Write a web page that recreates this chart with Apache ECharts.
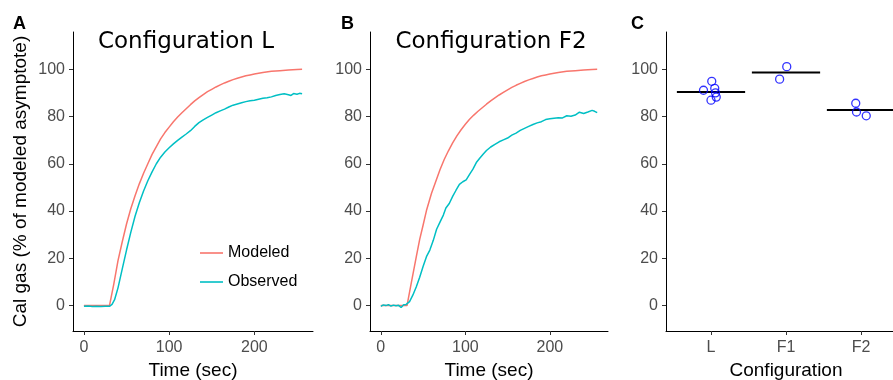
<!DOCTYPE html>
<html><head><meta charset="utf-8">
<script src="https://cdn.jsdelivr.net/npm/echarts@6.0.0/dist/echarts.min.js"></script>
<style>html,body{margin:0;padding:0;background:#fff}#c{width:893px;height:380px}</style>
</head><body><div id="c"></div>
<script>
// ---- data ----
const timeTicks = [0, 100, 200];
const yTicks = [0, 20, 40, 60, 80, 100];
const categories = ['L', 'F1', 'F2'];
const panelTitles = ['Configuration L', 'Configuration F2'];
const panelLetters = ['A', 'B', 'C'];

const modeledA = [[0,0],[10,0],[20,0],[30,0],[35,9],[40,19],[45,27],[50,34.5],[55,41],[60,46.5],[65,51.5],[70,56],[75,60],[80,64],[85,67.3],[90,70.5],[95,73.2],[100,75.5],[105,77.8],[110,79.8],[115,81.6],[120,83.3],[125,85],[130,86.6],[135,88],[140,89.3],[145,90.5],[150,91.5],[155,92.5],[160,93.4],[165,94.2],[170,94.9],[175,95.6],[180,96.2],[185,96.7],[190,97.2],[195,97.6],[200,98],[210,98.6],[220,99.1],[230,99.4],[240,99.7],[250,99.9],[256,100]];
const observedA = [[0,-0.3],[5,-0.2],[10,-0.4],[15,-0.3],[20,-0.4],[25,-0.3],[30,-0.3],[33,0.5],[36,2.5],[40,7.5],[45,15.5],[50,23.5],[55,31],[60,37.8],[65,43.5],[70,48.5],[75,52.8],[80,56.6],[85,60],[90,62.8],[95,65],[100,66.8],[105,68.4],[110,69.9],[115,71.3],[120,72.6],[125,74],[130,75.8],[135,77.4],[140,78.6],[145,79.6],[150,80.6],[155,81.6],[160,82.4],[165,83.1],[170,84],[175,84.8],[180,85.3],[185,85.8],[190,86.3],[195,86.7],[200,86.9],[205,87.3],[210,87.7],[215,87.9],[220,88.3],[225,88.9],[230,89.3],[235,89.6],[240,89.2],[243,88.9],[246,89.7],[250,89.4],[253,89.8],[256,89.6]];
const modeledB = [[0,0],[10,0],[20,0],[31,0],[36,9.5],[42,20.7],[46,28],[50,34],[54,40.2],[60,47.5],[65,52.5],[70,57.5],[75,61.8],[80,65.5],[85,68.8],[90,71.8],[95,74.4],[100,76.7],[105,78.8],[110,80.6],[115,82.2],[120,83.7],[125,85.2],[130,86.6],[135,87.9],[140,89.1],[145,90.2],[150,91.3],[155,92.3],[160,93.2],[165,94],[170,94.8],[175,95.5],[180,96.1],[185,96.7],[190,97.2],[195,97.6],[200,98],[210,98.6],[220,99.1],[230,99.4],[240,99.7],[250,99.9],[256,100]];
const observedB = [[0,-0.3],[3,0.3],[6,0],[9,0.4],[12,-0.2],[15,0.2],[18,-0.1],[21,0.1],[24,-0.8],[27,0.4],[30,0.5],[34,1.7],[38,4.5],[42,8],[46,12],[50,16.5],[54,20.7],[58,23.5],[62,27.5],[66,32.3],[70,35.3],[74,38.3],[77,41.3],[81,43.2],[85,46.2],[89,48.8],[93,51.3],[97,52.4],[101,53.2],[105,55.5],[109,57.7],[113,60.5],[117,62.3],[121,64],[125,65.6],[130,67.1],[135,68.2],[140,69.3],[145,70.1],[150,70.9],[155,72.1],[160,73],[165,74.1],[170,75],[175,75.8],[180,76.6],[185,77.3],[190,77.8],[195,78.7],[200,79],[205,79.3],[210,79.5],[215,79.4],[220,80.3],[225,80.1],[230,80.6],[235,81.8],[240,81.3],[245,81.9],[250,82.6],[253,82.2],[256,81.6]];

// panel C: [position on category axis incl. jitter, value]
const pointsL = [[0.90,91.1],[1.01,94.9],[1.05,91.9],[1.06,90.0],[1.07,88.2],[1.00,86.9]];
const pointsF1 = [[1.915,95.8],[2.01,101.1]];
const pointsF2 = [[2.93,85.6],[2.94,81.9],[3.07,80.3]];
const groupMeans = [90.4, 98.6, 82.7];

// ---- chart ----
const RED = '#F8766D', TEAL = '#00BFC4';
const FONT = 'Liberation Sans, Arial, sans-serif';
const chart = echarts.init(document.getElementById('c'), null, {renderer: 'canvas'});

function axisBase(margin) {
  return {
    axisLine: {show: true, onZero: false, lineStyle: {color: '#000', width: 1}},
    axisTick: {show: true, length: 4, lineStyle: {color: '#333', width: 1}},
    axisLabel: {color: '#4D4D4D', fontSize: 16, fontFamily: FONT, margin: margin},
    splitLine: {show: false}
  };
}
function yAxis(idx, name) {
  const a = axisBase(8);
  return Object.assign(a, {
    type: 'value', gridIndex: idx, min: -10.75, max: 115.75,
    name: name || '', nameLocation: 'middle', nameGap: 43,
    nameTextStyle: {color: '#000', fontSize: 19, fontFamily: FONT},
    axisTick: Object.assign(a.axisTick, {customValues: yTicks}),
    axisLabel: Object.assign(a.axisLabel, {customValues: yTicks})
  });
}
function timeAxis(idx) {
  const a = axisBase(9);
  return Object.assign(a, {
    type: 'value', gridIndex: idx, min: -12.8, max: 268.8,
    name: 'Time (sec)', nameLocation: 'middle', nameGap: 28,
    nameTextStyle: {color: '#000', fontSize: 19, fontFamily: FONT},
    axisTick: Object.assign(a.axisTick, {customValues: timeTicks}),
    axisLabel: Object.assign(a.axisLabel, {customValues: timeTicks})
  });
}
const catAx = (function () {
  const a = axisBase(9);
  return Object.assign(a, {
    type: 'value', gridIndex: 2, min: 0.4, max: 3.6,
    name: 'Configuration', nameLocation: 'middle', nameGap: 28,
    nameTextStyle: {color: '#000', fontSize: 19, fontFamily: FONT},
    axisTick: Object.assign(a.axisTick, {customValues: categories.map((c, i) => i + 1)}),
    axisLabel: Object.assign(a.axisLabel, {
      customValues: categories.map((c, i) => i + 1),
      formatter: v => categories[Math.round(v) - 1] || ''
    })
  });
})();

function lineSeries(name, data, color, xi) {
  return {
    type: 'line', name: name, data: data, xAxisIndex: xi, yAxisIndex: xi,
    symbol: 'none', showSymbol: false, smooth: false, lineStyle: {color: color, width: 1.5},
    itemStyle: {color: color}, silent: true
  };
}

const gridBase = {outerBoundsMode: 'none', containLabel: false, top: 32, height: 299};
const option = {
  animation: false,
  backgroundColor: '#fff',
  grid: [
    Object.assign({left: 73, width: 240}, gridBase),
    Object.assign({left: 370, width: 238}, gridBase),
    Object.assign({left: 666, width: 240}, gridBase)
  ],
  xAxis: [timeAxis(0), timeAxis(1), catAx],
  yAxis: [yAxis(0, 'Cal gas (% of modeled asymptote)'), yAxis(1), yAxis(2)],
  legend: {
    data: [{name: 'Modeled', icon: 'rect'}, {name: 'Observed', icon: 'rect'}],
    orient: 'vertical', left: 195, top: 240,
    itemWidth: 23, itemHeight: 1.6, itemGap: 13,
    textStyle: {color: '#000', fontSize: 16, fontFamily: FONT}
  },
  graphic: [
    {type: 'text', left: 13, top: 15, style: {text: panelLetters[0], font: 'bold 18px ' + FONT, fill: '#000'}},
    {type: 'text', left: 341, top: 15, style: {text: panelLetters[1], font: 'bold 18px ' + FONT, fill: '#000'}},
    {type: 'text', left: 631, top: 15, style: {text: panelLetters[2], font: 'bold 18px ' + FONT, fill: '#000'}},
    {type: 'text', x: 186, y: 42, style: {text: panelTitles[0], font: '23px DejaVu Sans', fill: '#000', textAlign: 'center', textVerticalAlign: 'middle'}},
    {type: 'text', x: 491, y: 42, style: {text: panelTitles[1], font: '23px DejaVu Sans', fill: '#000', textAlign: 'center', textVerticalAlign: 'middle'}}
  ],
  series: [
    lineSeries('Modeled', modeledA, RED, 0),
    lineSeries('Observed', observedA, TEAL, 0),
    lineSeries('Modeled', modeledB, RED, 1),
    lineSeries('Observed', observedB, TEAL, 1),
    {
      type: 'custom', xAxisIndex: 2, yAxisIndex: 2, silent: true,
      data: groupMeans.map((m, i) => [i + 1, m]),
      renderItem: function (params, api) {
        const p0 = api.coord([api.value(0) - 0.455, api.value(1)]);
        const p1 = api.coord([api.value(0) + 0.455, api.value(1)]);
        return {type: 'line', shape: {x1: p0[0], y1: p0[1], x2: p1[0], y2: p1[1]},
                style: {stroke: '#000', lineWidth: 2}};
      }
    },
    {
      type: 'scatter', xAxisIndex: 2, yAxisIndex: 2, silent: true, z: 5,
      data: pointsL.concat(pointsF1, pointsF2),
      symbol: 'circle', symbolSize: 8,
      itemStyle: {color: 'rgba(0,0,0,0)', borderColor: '#0000FF', borderWidth: 1.3}
    }
  ]
};
chart.setOption(option);
</script>
</body></html>
